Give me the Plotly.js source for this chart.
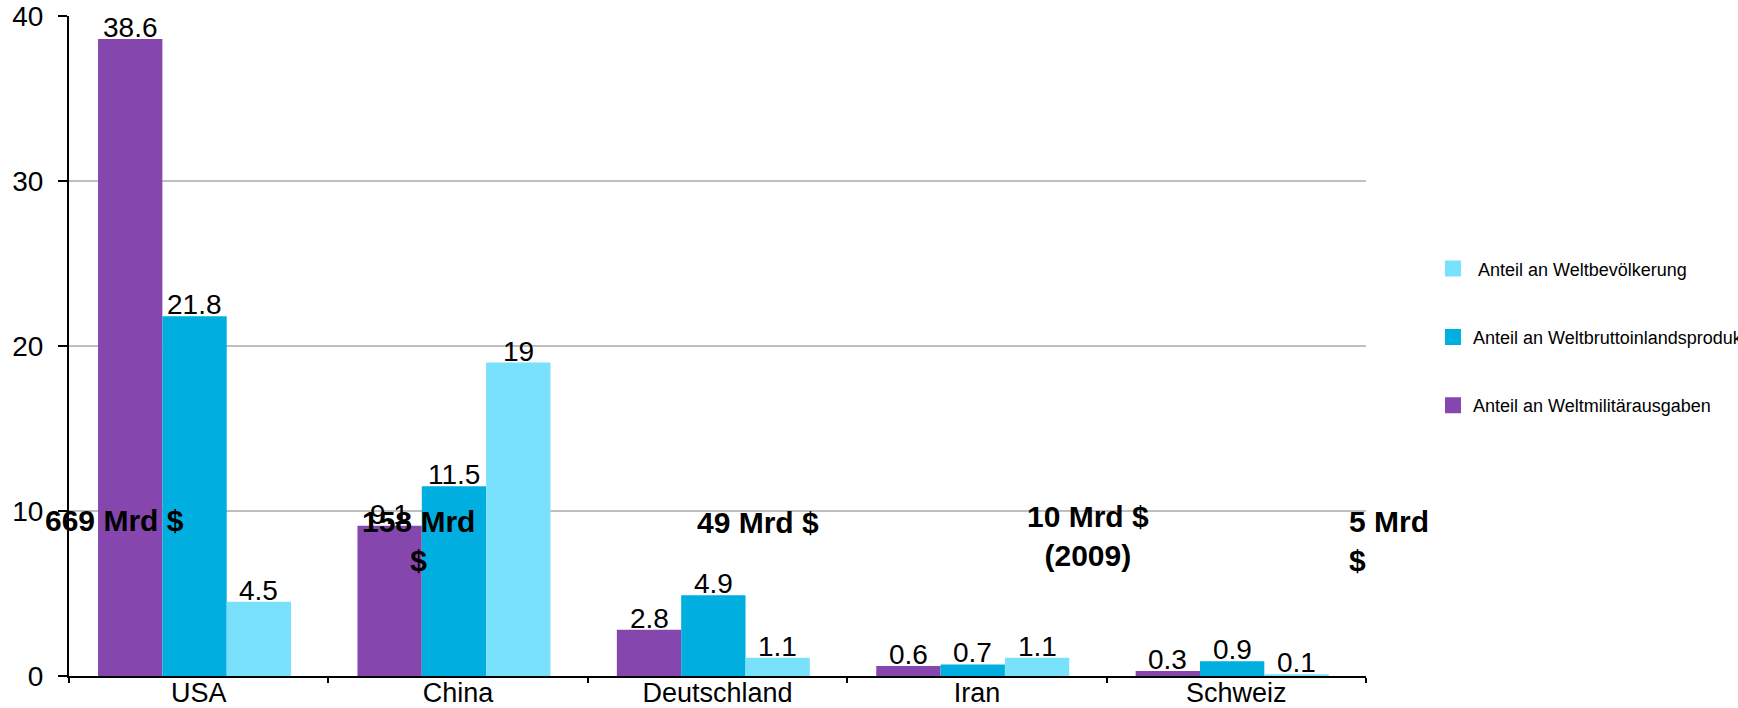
<!DOCTYPE html>
<html>
<head>
<meta charset="utf-8">
<script src="https://cdn.plot.ly/plotly-3.0.1.min.js"></script>
<style>
  html, body { margin: 0; padding: 0; background: #ffffff; }
  #chart { width: 1738px; height: 708px; }
</style>
</head>
<body>
<div id="chart"></div>
<script>
// ---- data ----
const categories = ['USA', 'China', 'Deutschland', 'Iran', 'Schweiz'];
const militaer = [38.6, 9.1, 2.8, 0.6, 0.3];
const bip = [21.8, 11.5, 4.9, 0.7, 0.9];
const bevoelkerung = [4.5, 19, 1.1, 1.1, 0.1];
const nameMilitaer = 'Anteil an Weltmilitärausgaben';
const nameBip = 'Anteil an Weltbruttoinlandsprodukt';
const nameBevoelkerung = '\u00a0Anteil an Weltbevölkerung';
const spendingNotes = ['669 Mrd $', '158 Mrd<br>$', '49 Mrd $', '10 Mrd $<br>(2009)', '5 Mrd<br>$'];
const yTicks = [0, 10, 20, 30, 40];

// ---- styles ----
const cPurple = '#8547AD';
const cBlue = '#00AEDF';
const cLight = '#7AE1FD';
const font = 'Liberation Sans, Arial, sans-serif';
const barWidth = 0.248;
const groupStart = -0.388;

const series = [
  { vals: militaer, color: cPurple, name: nameMilitaer },
  { vals: bip, color: cBlue, name: nameBip },
  { vals: bevoelkerung, color: cLight, name: nameBevoelkerung }
];

const data = series.map((s, k) => ({
  type: 'bar', x: categories, y: s.vals, name: s.name,
  marker: { color: s.color },
  width: barWidth, offset: groupStart + k * barWidth,
  showlegend: false, hoverinfo: 'skip'
}));

function legendTrace(color, name, grp) {
  return {
    type: 'scatter', mode: 'markers', x: [null], y: [null], name: name,
    legendgroup: grp,
    marker: { color: color, symbol: 'square', size: 20 },
    showlegend: true
  };
}
data.push(legendTrace(cLight, nameBevoelkerung, 'g1'));
data.push(legendTrace(cBlue, nameBip, 'g2'));
data.push(legendTrace(cPurple, nameMilitaer, 'g3'));

// value labels sitting on top of each bar
const annotations = [];
series.forEach((s, k) => {
  s.vals.forEach((v, i) => {
    annotations.push({
      xref: 'x', yref: 'y',
      x: i + groupStart + (k + 0.5) * barWidth, y: v,
      text: String(v), showarrow: false,
      xanchor: 'center', yanchor: 'bottom', yshift: -6,
      font: { family: font, size: 28, color: '#000' }
    });
  });
});

const noteShift = [-84, -40, 40, 111, 111];
const noteY = [9.4, 8.2, 9.3, 8.5, 8.2];
const noteAnchor = ['center', 'center', 'center', 'center', 'left'];
const noteAlign = ['center', 'center', 'center', 'center', 'left'];

spendingNotes.forEach((t, i) => annotations.push({
  xref: 'x', yref: 'y', x: categories[i], y: noteY[i],
  xshift: noteShift[i],
  text: '<b>' + t + '</b>', showarrow: false,
  xanchor: noteAnchor[i], yanchor: 'middle', align: noteAlign[i],
  font: { family: font, size: 30, color: '#000' }
}));

const layout = {
  width: 1738, height: 708,
  margin: { l: 69, r: 372, t: 16, b: 32, autoexpand: false },
  paper_bgcolor: '#ffffff', plot_bgcolor: '#ffffff',
  barmode: 'overlay',
  font: { family: font, size: 28, color: '#000' },
  xaxis: {
    type: 'category', categoryorder: 'array', categoryarray: categories,
    range: [-0.5, categories.length - 0.5], autorange: false,
    showline: true, linecolor: '#000', linewidth: 2,
    ticks: 'outside', tickson: 'boundaries', ticklen: 5, tickwidth: 2, tickcolor: '#000',
    ticklabelstandoff: -8,
    tickfont: { family: font, size: 27, color: '#000' },
    showgrid: false, zeroline: false, fixedrange: true, automargin: false
  },
  yaxis: {
    range: [0, 40], autorange: false, tickvals: yTicks,
    showline: true, linecolor: '#000', linewidth: 2,
    ticks: 'outside', ticklen: 9, tickwidth: 2, tickcolor: '#000',
    ticklabelstandoff: 9,
    tickfont: { family: font, size: 28, color: '#000' },
    showgrid: true, gridcolor: '#BFBFBF', gridwidth: 2,
    zeroline: false, fixedrange: true, automargin: false
  },
  legend: {
    xref: 'container', yref: 'container',
    x: 0.8245, xanchor: 'left', y: 0.6465, yanchor: 'top',
    traceorder: 'grouped', tracegroupgap: 42,
    font: { family: font, size: 18, color: '#000' },
    bgcolor: 'rgba(0,0,0,0)', borderwidth: 0
  },
  annotations: annotations,
  showlegend: true
};

Plotly.newPlot('chart', data, layout, { displayModeBar: false, staticPlot: true });
</script>
</body>
</html>
